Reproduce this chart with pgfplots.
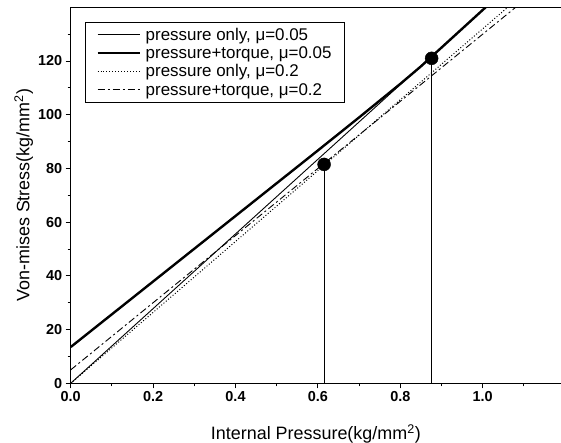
\documentclass[border=0pt]{standalone}
\usepackage{pgfplots}
\pgfplotsset{compat=1.18}
\usepackage{fontspec}
\setmainfont{Liberation Sans}
\usetikzlibrary{calc}

\begin{document}
\begin{tikzpicture}
\begin{axis}[
    scale only axis,
    width=490.3bp, height=376bp,
    xmin=0, xmax=1.19,
    ymin=0, ymax=140,
    axis x line=box, axis y line=left,
    axis line style={-, line width=1pt},
    xtick pos=left, ytick pos=left,
    tick align=outside,
    major tick length=5bp, minor tick length=3bp,
    every tick/.style={black, line width=1pt},
    xtick={0,0.2,0.4,0.6,0.8,1.0},
    minor xtick={0.1,0.3,0.5,0.7,0.9,1.1},
    ytick={0,20,40,60,80,100,120},
    minor ytick={10,30,50,70,90,110,130},
    xticklabel style={/pgf/number format/fixed, /pgf/number format/fixed zerofill, /pgf/number format/precision=1},
    /pgf/number format/assume math mode=true,
    tick label style={font=\fontsize{14.5}{14.5}\selectfont\bfseries},
    xlabel={Internal Pressure(kg/mm\textsuperscript{2})},
    ylabel={Von-mises Stress(kg/mm\textsuperscript{2})},
    label style={font=\fontsize{18}{18}\selectfont},
    xlabel style={at={([yshift=-50.7bp]axis description cs:0.5,0)}, anchor=center},
    ylabel style={at={([xshift=-47bp]axis description cs:0,0.5)}, anchor=center},
    legend style={at={(0.029,0.962)}, anchor=north west, draw=black, line width=0.8pt,
        font=\fontsize{17}{20.7}\selectfont, cells={anchor=west},
        inner xsep=11bp, inner ysep=4bp, row sep=0.8bp},
    legend image code/.code={\draw[#1] (0bp,0bp) -- (42bp,0bp); \path (45bp,0bp);},
]
% pressure only, mu=0.05
\addplot[black, line width=0.9pt] coordinates {(0,0) (1.03,143.2)};
\addlegendentry{pressure only, μ=0.05}
% pressure+torque, mu=0.05
\addplot[black, line width=2.4pt] coordinates {
    (0,13.5) (0.6,86.7) (0.7,99) (0.76,106.5) (0.8,111.5) (0.85,118) (0.9,125) (1.03,143.2)};
\addlegendentry{pressure+torque, μ=0.05}
% pressure only, mu=0.2
\addplot[black, line width=1pt, dotted] coordinates {(0,0) (1.1,145.2)};
\addlegendentry{pressure only, μ=0.2}
% pressure+torque, mu=0.2
\addplot[black, line width=0.9pt, dash pattern=on 7bp off 3bp on 2bp off 3bp] coordinates {(0,5) (1.12,145)};
\addlegendentry{pressure+torque, μ=0.2}
% marked points with drop lines
\addplot[black, line width=1pt, forget plot] coordinates {(0.615,0) (0.615,81.5)};
\addplot[black, line width=1pt, forget plot] coordinates {(0.876,0) (0.876,121)};
\addplot[only marks, mark=*, mark size=6.5bp, black, forget plot] coordinates {(0.615,81.5) (0.876,121)};
\end{axis}
\pgfresetboundingbox
\path[use as bounding box] ($(current axis.south west)+(-70.7bp,-59.7bp)$) rectangle ($(current axis.north east)+(0bp,7.3bp)$);
\end{tikzpicture}
\end{document}
